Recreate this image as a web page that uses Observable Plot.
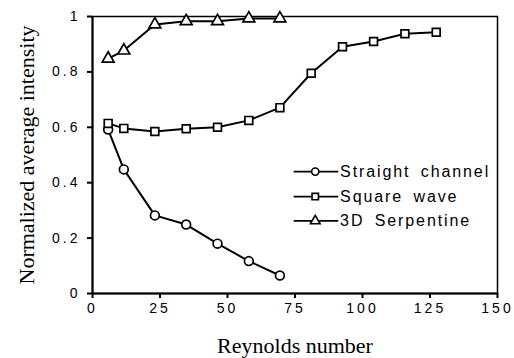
<!DOCTYPE html>
<html>
<head>
<meta charset="utf-8">
<script src="https://cdn.jsdelivr.net/npm/d3@7"></script>
<script src="https://cdn.jsdelivr.net/npm/@observablehq/plot@0.6"></script>
<style>
  html, body { margin: 0; padding: 0; background: #fff; }
  g[aria-label="x-axis tick label"] text, g[aria-label="y-axis tick label"] text { letter-spacing: 3px; }
</style>
</head>
<body>
<div id="chart"></div>
<script>
const seriesNames = ["Straight channel", "Square wave", "3D Serpentine"];
const straightX = [5.8, 11.6, 23.1, 34.7, 46.3, 57.9, 69.4];
const straightY = [0.592, 0.448, 0.282, 0.249, 0.18, 0.117, 0.065];
const squareX = [5.8, 11.6, 23.1, 34.7, 46.3, 57.9, 69.4, 81.0, 92.6, 104.1, 115.7, 127.3];
const squareY = [0.614, 0.596, 0.585, 0.595, 0.600, 0.625, 0.671, 0.795, 0.891, 0.910, 0.938, 0.943];
const serpX = [5.8, 11.6, 23.1, 34.7, 46.3, 57.9, 69.4];
const serpY = [0.848, 0.877, 0.971, 0.983, 0.983, 0.993, 0.993];
const xTicks = [0, 25, 50, 75, 100, 125, 150];
const yTicks = [0, 0.2, 0.4, 0.6, 0.8, 1];
const xLabel = "Reynolds number";
const yLabel = "Normalized average intensity";
const symbols = ["circle", "square", "triangle"];

// legend layout (data coordinates)
const legendLineX = [74.5, 91];
const legendSymX = 82.5;
const legendTextX = 91.7;
const legendY = [0.440, 0.350, 0.262];

const data = [];
[[straightX, straightY], [squareX, squareY], [serpX, serpY]].forEach(([xs, ys], i) => {
  xs.forEach((x, j) => data.push({series: seriesNames[i], x, y: ys[j]}));
});
const legend = seriesNames.map((s, i) => ({series: s, y: legendY[i]}));

const chart = Plot.plot({
  width: 514,
  height: 358,
  marginLeft: 92,
  marginRight: 17,
  marginTop: 16,
  marginBottom: 65,
  style: {fontFamily: "Liberation Sans, Arial, sans-serif", fontSize: "14px", color: "#000", background: "#fff"},
  x: {domain: [0, 150]},
  y: {domain: [0, 1]},
  symbol: {domain: seriesNames, range: symbols},
  marks: [
    Plot.frame({stroke: "#000", strokeWidth: 1.5}),
    Plot.ruleX([0], {stroke: "#000", strokeWidth: 2}),
    Plot.ruleY([0], {stroke: "#000", strokeWidth: 2}),
    Plot.axisX({ticks: xTicks, tickSize: 5, tickPadding: 5, label: null, stroke: "#000", strokeWidth: 2, fontSize: 14}),
    Plot.axisY({ticks: yTicks, tickSize: 5, tickPadding: 7, label: null, tickFormat: d => String(d), stroke: "#000", strokeWidth: 2, fontSize: 14}),
    Plot.line(data, {x: "x", y: "y", z: "series", stroke: "#000", strokeWidth: 2}),
    Plot.dot(data, {x: "x", y: "y", symbol: "series", r: 4.4, fill: "#fff", stroke: "#000", strokeWidth: 1.7}),
    // legend
    Plot.link(legend, {x1: () => legendLineX[0], x2: () => legendLineX[1], y1: "y", y2: "y", stroke: "#000", strokeWidth: 1.8}),
    Plot.dot(legend, {x: () => legendSymX, y: "y", symbol: "series", r: 3.6, fill: "#fff", stroke: "#000", strokeWidth: 1.6}),
    Plot.text(legend, {x: () => legendTextX, y: "y", text: "series", textAnchor: "start", fontSize: 16, fill: "#000"}),
    // axis titles
    Plot.text([xLabel], {frameAnchor: "bottom", dy: 59, lineAnchor: "bottom", textAnchor: "middle", text: d => d, fontFamily: "Liberation Serif, Times New Roman, serif", fontSize: 22, fill: "#000"}),
    Plot.text([yLabel], {frameAnchor: "left", dx: -59, rotate: -90, lineAnchor: "bottom", textAnchor: "middle", text: d => d, fontFamily: "Liberation Serif, Times New Roman, serif", fontSize: 22, fill: "#000"})
  ]
});
d3.select(chart).selectAll("text")
  .filter(function() { return seriesNames.includes(this.textContent); })
  .attr("letter-spacing", "1.9px")
  .attr("word-spacing", "4px");
document.getElementById("chart").appendChild(chart);
</script>
</body>
</html>
